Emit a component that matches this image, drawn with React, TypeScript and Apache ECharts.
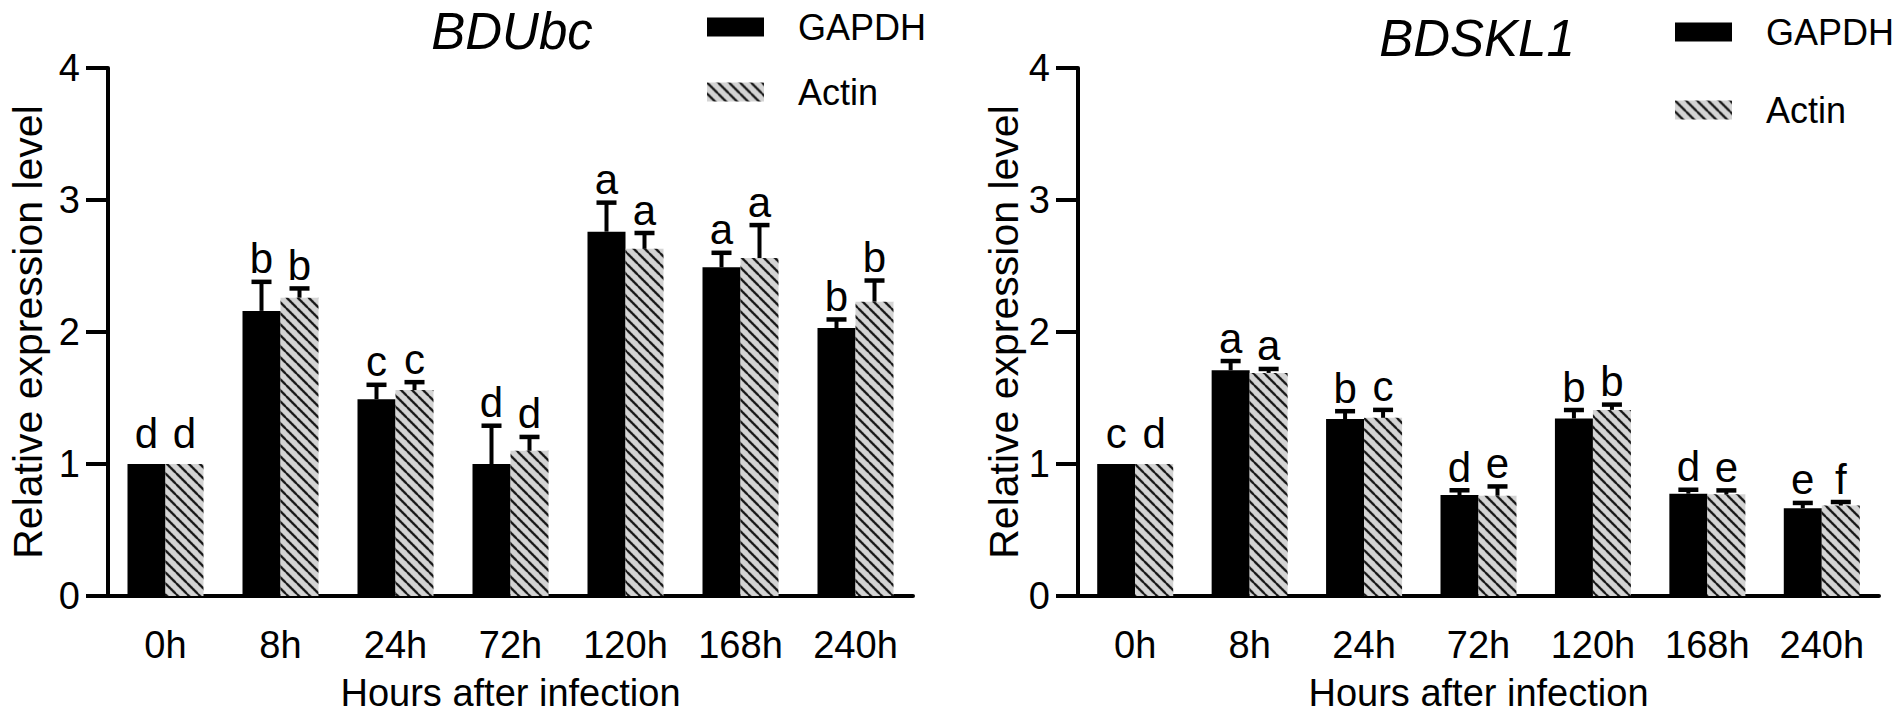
import React, { useEffect, useRef } from "react";
import * as echarts from "echarts";

const categories = ["0h", "8h", "24h", "72h", "120h", "168h", "240h"];

// BDUbc
const ubcGapdhMean = [1.0, 2.16, 1.49, 1.0, 2.76, 2.49, 2.03];
const ubcGapdhSd = [0, 0.22, 0.11, 0.29, 0.22, 0.11, 0.065];
const ubcActinMean = [1.0, 2.26, 1.56, 1.1, 2.63, 2.56, 2.23];
const ubcActinSd = [0, 0.07, 0.06, 0.105, 0.12, 0.25, 0.16];
const ubcGapdhLetters = ["d", "b", "c", "d", "a", "a", "b"];
const ubcActinLetters = ["d", "b", "c", "d", "a", "a", "b"];

// BDSKL1
const sklGapdhMean = [1.0, 1.71, 1.34, 0.765, 1.345, 0.775, 0.665];
const sklGapdhSd = [0, 0.07, 0.06, 0.036, 0.064, 0.03, 0.04];
const sklActinMean = [1.0, 1.69, 1.35, 0.76, 1.41, 0.77, 0.685];
const sklActinSd = [0, 0.03, 0.06, 0.07, 0.04, 0.03, 0.027];
const sklGapdhLetters = ["c", "a", "b", "d", "b", "d", "e"];
const sklActinLetters = ["d", "a", "c", "e", "b", "e", "f"];

const titles = ["BDUbc", "BDSKL1"];
const seriesNames = ["GAPDH", "Actin"];
const yAxisName = "Relative expression level";
const xAxisName = "Hours after infection";

const FONT = "'Liberation Sans', Arial, Helvetica, sans-serif";
const BAR_W = 38;

function makeHatch() {
  const T = 11;
  const S = 3;
  const c = document.createElement("canvas");
  c.width = T * S;
  c.height = T * S;
  const ctx = c.getContext("2d")!;
  ctx.scale(S, S);
  ctx.fillStyle = "#d4d4d4";
  ctx.fillRect(0, 0, T, T);
  ctx.strokeStyle = "#111";
  ctx.lineWidth = 2.2;
  for (let k = -1; k <= 1; k++) {
    ctx.beginPath();
    ctx.moveTo(k * T - 1, -1);
    ctx.lineTo(k * T + T + 1, T + 1);
    ctx.stroke();
  }
  return { image: c, repeat: "repeat", imageWidth: T, imageHeight: T } as any;
}

function errSeries(
  axis: number,
  sign: number,
  means: number[],
  sds: number[],
  letters: string[]
) {
  return {
    type: "custom",
    xAxisIndex: axis,
    yAxisIndex: axis,
    z: 10,
    clip: false,
    silent: true,
    encode: { x: 0, y: 1 },
    data: means.map((m, i) => [i, m, sds[i]]),
    renderItem: (params: any, api: any) => {
      const i = api.value(0);
      const m = api.value(1);
      const sd = api.value(2);
      const base = api.coord([i, m]);
      const top = api.coord([i, m + sd]);
      const x = base[0] + (sign * BAR_W) / 2;
      const children: any[] = [];
      if (sd > 0) {
        children.push({
          type: "line",
          shape: { x1: x, y1: base[1], x2: x, y2: top[1] },
          style: { stroke: "#000", lineWidth: 4 },
        });
        children.push({
          type: "line",
          shape: { x1: x - 10, y1: top[1], x2: x + 10, y2: top[1] },
          style: { stroke: "#000", lineWidth: 4.5 },
        });
      }
      children.push({
        type: "text",
        x: x,
        y: top[1] - (sd > 0 ? 2 : 10),
        style: {
          text: letters[params.dataIndex],
          fontSize: 42,
          fontFamily: FONT,
          fill: "#000",
          align: "center",
          verticalAlign: "bottom",
        },
      });
      return { type: "group", children };
    },
  };
}

function xAxisOpt(grid: number) {
  return {
    type: "category",
    gridIndex: grid,
    data: categories,
    axisLine: { lineStyle: { color: "#000", width: 4 } },
    axisTick: { alignWithLabel: true, length: 24, lineStyle: { color: "#000", width: 4 } },
    axisLabel: { fontSize: 38, color: "#000", margin: 30, fontFamily: FONT },
    name: xAxisName,
    nameLocation: "middle",
    nameGap: 78,
    nameTextStyle: { fontSize: 38, color: "#000", fontFamily: FONT },
  };
}

function yAxisOpt(grid: number, gap: number) {
  return {
    type: "value",
    gridIndex: grid,
    min: 0,
    max: 4,
    interval: 1,
    splitLine: { show: false },
    axisLine: { show: true, lineStyle: { color: "#000", width: 4 } },
    axisTick: { show: true, length: 22, lineStyle: { color: "#000", width: 4 } },
    axisLabel: { fontSize: 38, color: "#000", margin: 28, fontFamily: FONT },
    name: yAxisName,
    nameLocation: "middle",
    nameGap: gap,
    nameRotate: 90,
    nameTextStyle: { fontSize: 41, color: "#000", fontFamily: FONT },
  };
}

export default function App() {
  const ref = useRef<HTMLDivElement>(null);
  useEffect(() => {
    if (!ref.current) return;
    const chart = echarts.init(ref.current, undefined, { renderer: "svg" });
    const hatch = makeHatch();
    const barCommon = { type: "bar", barWidth: BAR_W, barGap: "0%" };
    const legendText = {
      fontSize: 36,
      color: "#000",
      fontFamily: FONT,
      padding: [0, 0, 0, 29],
    };
    chart.setOption({
      animation: false,
      backgroundColor: "#fff",
      grid: [
        { left: 108, top: 68, width: 805, height: 534 },
        { left: 1078, top: 68, width: 801, height: 532 },
      ],
      xAxis: [xAxisOpt(0), xAxisOpt(1)],
      yAxis: [yAxisOpt(0, 60), yAxisOpt(1, 50)],
      legend: [
        {
          data: seriesNames,
          orient: "vertical",
          left: 707,
          top: 9,
          padding: 0,
          itemWidth: 57,
          itemHeight: 19,
          itemGap: 29,
          icon: "rect",
          selectedMode: false,
          textStyle: legendText,
        },
        {
          data: seriesNames,
          orient: "vertical",
          left: 1675,
          top: 14,
          padding: 0,
          itemWidth: 57,
          itemHeight: 19,
          itemGap: 42,
          icon: "rect",
          selectedMode: false,
          textStyle: legendText,
        },
      ],
      graphic: [
        {
          type: "text",
          x: 512,
          y: 31,
          style: {
            text: titles[0],
            fontSize: 51,
            fontStyle: "italic",
            fontFamily: FONT,
            fill: "#000",
            align: "center",
            verticalAlign: "middle",
          },
        },
        {
          type: "text",
          x: 1477,
          y: 38,
          style: {
            text: titles[1],
            fontSize: 51,
            fontStyle: "italic",
            fontFamily: FONT,
            fill: "#000",
            align: "center",
            verticalAlign: "middle",
          },
        },
      ],
      series: [
        { ...barCommon, name: seriesNames[0], xAxisIndex: 0, yAxisIndex: 0, data: ubcGapdhMean, itemStyle: { color: "#000" } },
        { ...barCommon, name: seriesNames[1], xAxisIndex: 0, yAxisIndex: 0, data: ubcActinMean, itemStyle: { color: hatch } },
        { ...barCommon, name: seriesNames[0], xAxisIndex: 1, yAxisIndex: 1, data: sklGapdhMean, itemStyle: { color: "#000" } },
        { ...barCommon, name: seriesNames[1], xAxisIndex: 1, yAxisIndex: 1, data: sklActinMean, itemStyle: { color: hatch } },
        errSeries(0, -1, ubcGapdhMean, ubcGapdhSd, ubcGapdhLetters),
        errSeries(0, 1, ubcActinMean, ubcActinSd, ubcActinLetters),
        errSeries(1, -1, sklGapdhMean, sklGapdhSd, sklGapdhLetters),
        errSeries(1, 1, sklActinMean, sklActinSd, sklActinLetters),
      ],
    });
    return () => chart.dispose();
  }, []);
  return (
    <div
      ref={ref}
      style={{ position: "fixed", left: 0, top: 0, width: 1902, height: 717, background: "#fff" }}
    />
  );
}
